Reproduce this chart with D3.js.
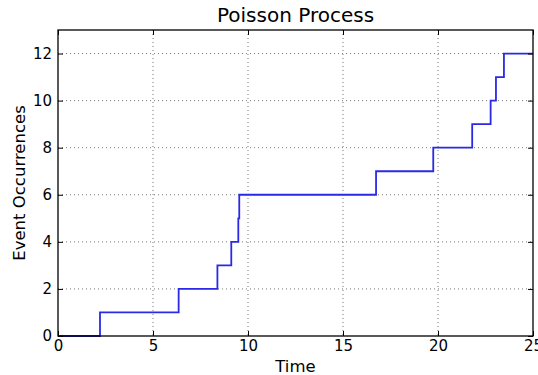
<!DOCTYPE html>
<html>
<head>
<meta charset="utf-8">
<script src="https://cdn.jsdelivr.net/npm/d3@7"></script>
<style>
  body { margin: 0; background: #fff; }
  text { font-family: "DejaVu Sans", sans-serif; fill: #000; }
</style>
</head>
<body>
<script>
// event arrival times
var eventTimes = [2.21, 6.35, 8.39, 9.12, 9.49, 9.54, 16.74, 19.75, 21.8, 22.77, 23.05, 23.47];
var xTicks = [0, 5, 10, 15, 20, 25];
var yTicks = [0, 2, 4, 6, 8, 10, 12];
var tEnd = 25;

var margin = {top: 30, right: 5, bottom: 39, left: 58},
    width = 538 - margin.left - margin.right,
    height = 375 - margin.top - margin.bottom;

var x = d3.scaleLinear().domain([0, 25]).range([0, width]);
var y = d3.scaleLinear().domain([0, 13]).range([height, 0]);

var svg = d3.select("body").append("svg")
    .attr("width", 538)
    .attr("height", 375);

var g = svg.append("g")
    .attr("transform", "translate(" + margin.left + "," + margin.top + ")");

// grid
g.append("g").selectAll("line").data(xTicks.slice(1, -1)).enter().append("line")
    .attr("x1", d => x(d)).attr("x2", d => x(d))
    .attr("y1", 0).attr("y2", height)
    .attr("stroke", "#777").attr("stroke-width", 1).attr("stroke-dasharray", "1,3");
g.append("g").selectAll("line").data(yTicks.slice(1)).enter().append("line")
    .attr("x1", 0).attr("x2", width)
    .attr("y1", d => y(d)).attr("y2", d => y(d))
    .attr("stroke", "#777").attr("stroke-width", 1).attr("stroke-dasharray", "1,3");

// step line
var pts = [[0, 0]];
eventTimes.forEach(function(t, i) { pts.push([t, i + 1]); });
pts.push([tEnd, eventTimes.length]);

var line = d3.line()
    .x(d => x(d[0]))
    .y(d => y(d[1]))
    .curve(d3.curveStepAfter);

g.append("path")
    .datum(pts)
    .attr("fill", "none")
    .attr("stroke", "#2a2ae6")
    .attr("stroke-width", 1.8)
    .attr("d", line);

// axes (inward ticks, mirrored on top/right)
function styleAxis(sel) {
  sel.select(".domain").remove();
  sel.selectAll("line").attr("stroke", "#000");
  sel.selectAll("text").style("font-size", "15px").style("font-family", "DejaVu Sans, sans-serif");
}
g.append("g")
    .attr("transform", "translate(0," + height + ")")
    .call(d3.axisBottom(x).tickValues(xTicks).tickSize(-5).tickPadding(4))
    .call(styleAxis);
g.append("g")
    .call(d3.axisTop(x).tickValues(xTicks).tickSize(-5).tickFormat(""))
    .call(styleAxis);
g.append("g")
    .call(d3.axisLeft(y).tickValues(yTicks).tickSize(-5).tickPadding(6))
    .call(styleAxis);
g.append("g")
    .attr("transform", "translate(" + width + ",0)")
    .call(d3.axisRight(y).tickValues(yTicks).tickSize(-5).tickFormat(""))
    .call(styleAxis);

g.append("rect")
    .attr("width", width).attr("height", height)
    .attr("fill", "none").attr("stroke", "#000").attr("stroke-width", 1.3);

// titles
svg.append("text")
    .attr("x", margin.left + width / 2).attr("y", 22)
    .attr("text-anchor", "middle")
    .style("font-size", "20px")
    .text("Poisson Process");
svg.append("text")
    .attr("x", margin.left + width / 2).attr("y", 372)
    .attr("text-anchor", "middle")
    .style("font-size", "16.5px")
    .text("Time");
svg.append("text")
    .attr("transform", "translate(25," + (margin.top + height / 2) + ") rotate(-90)")
    .attr("text-anchor", "middle")
    .style("font-size", "16.5px")
    .text("Event Occurrences");
</script>
</body>
</html>
